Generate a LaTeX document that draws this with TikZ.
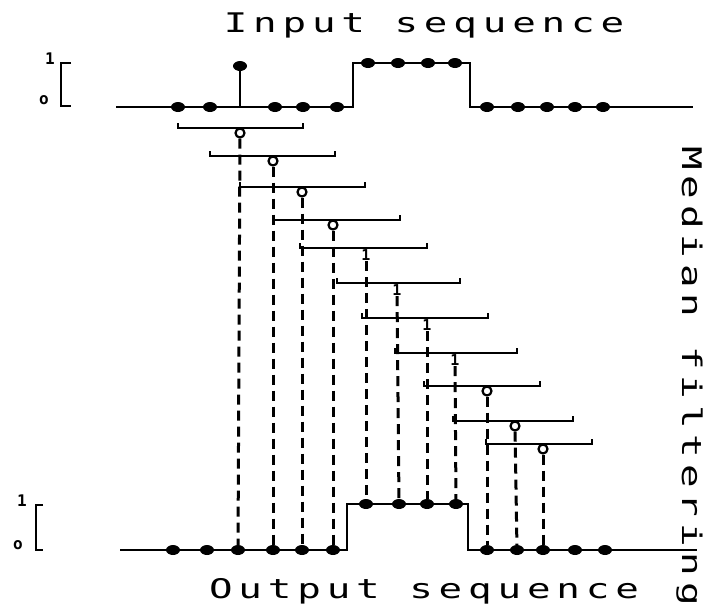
\documentclass[tikz,border=0pt]{standalone}
\usepackage{fontspec}
\usepackage{graphicx}
\newfontfamily\labelmono[LetterSpace=15]{DejaVu Sans Mono}
\newfontfamily\digitmono{DejaVu Sans Mono Bold}
\usetikzlibrary{shapes.geometric}

\begin{document}
\begin{tikzpicture}[x=1pt,y=-1pt,
  seq/.style={line width=2.6pt},
  dot/.style={ellipse, fill=black, inner sep=0pt, minimum width=14pt, minimum height=10pt},
  hollow/.style={circle, draw, line width=2.2pt, inner sep=0pt, minimum size=9pt, fill=white},
  one/.style={inner sep=0.5pt, font=\digitmono\fontsize{15}{15}\selectfont},
  win/.style={line width=2.1pt},
  link/.style={line width=3pt, dash pattern=on 10pt off 6pt},
  axis/.style={line width=2.4pt},
  tick/.style={inner sep=0pt, font=\digitmono\fontsize{16}{16}\selectfont},
  title/.style={font=\labelmono\fontsize{27}{27}\selectfont, inner sep=0pt}]

\useasboundingbox (0,0) rectangle (724,611);

% titles
\node[title, anchor=base] (tin) at (424,32) {\scalebox{1.45}[1]{Input sequence}};
\node[title, anchor=base] (tout) at (424,598) {\scalebox{1.45}[1]{Output sequence}};
\node[title, rotate=-90, anchor=base] (tmed) at (682,376) {\scalebox{1.45}[1]{Median filtering}};

% level scales
\node[tick] (ione) at (50,59) {1};
\node[tick] (izero) at (44,100) {o};
\draw[axis] (71,63) -- (61,63) -- (61,106) -- (71,106);
\node[tick] (oone) at (22,501) {1};
\node[tick] (ozero) at (18,545) {o};
\draw[axis] (43,505) -- (36,505) -- (36,550) -- (43,550);

% input sequence
\draw[seq] (116,107) -- (353,107) -- (353,63) -- (470,63) -- (470,107) -- (693,107);
\coordinate (stembase) at (240,107);
\foreach \x/\y [count=\i from 0] in
  {178/107,210/107,240/66,275/107,303/107,337/107,368/63,398/63,428/63,455/63,
   487/107,518/107,547/107,575/107,603/107}
  \node[dot] (in\i) at (\x,\y) {};
\draw[seq] (stembase) -- (in2);

% output sequence
\draw[seq] (120,550) -- (347,550) -- (347,504) -- (468,504) -- (468,550) -- (697,550);
\foreach \x/\y [count=\i from 0] in
  {173/550,207/550,238/550,273/550,302/550,333/550,366/504,399/504,427/504,456/504,
   487/550,517/550,543/550,575/550,605/550}
  \node[dot] (out\i) at (\x,\y) {};

% sliding windows of five samples and their medians
\foreach \k/\y/\l/\r/\s/\t in
  {2/128/178/303/240/0, 3/156/210/335/273/0, 4/187/240/365/302/0, 5/220/273/400/333/0,
   6/248/300/427/366/1, 7/283/337/460/397/1, 8/318/362/488/427/1, 9/353/395/517/455/1,
   10/386/424/540/487/0, 11/421/453/573/515/0, 12/444/486/592/543/0}
{
  \draw[win] (\l,\y-5) -- (\l,\y) -- (\r,\y) -- (\r,\y-5);
  \ifnum\t=0
    \node[hollow] (m\k) at (\s,\y+5) {};
  \else
    \node[one] (m\k) at (\s,\y+7) {1};
  \fi
  \draw[link] (m\k) -- (out\k);
}
\end{tikzpicture}
\end{document}
